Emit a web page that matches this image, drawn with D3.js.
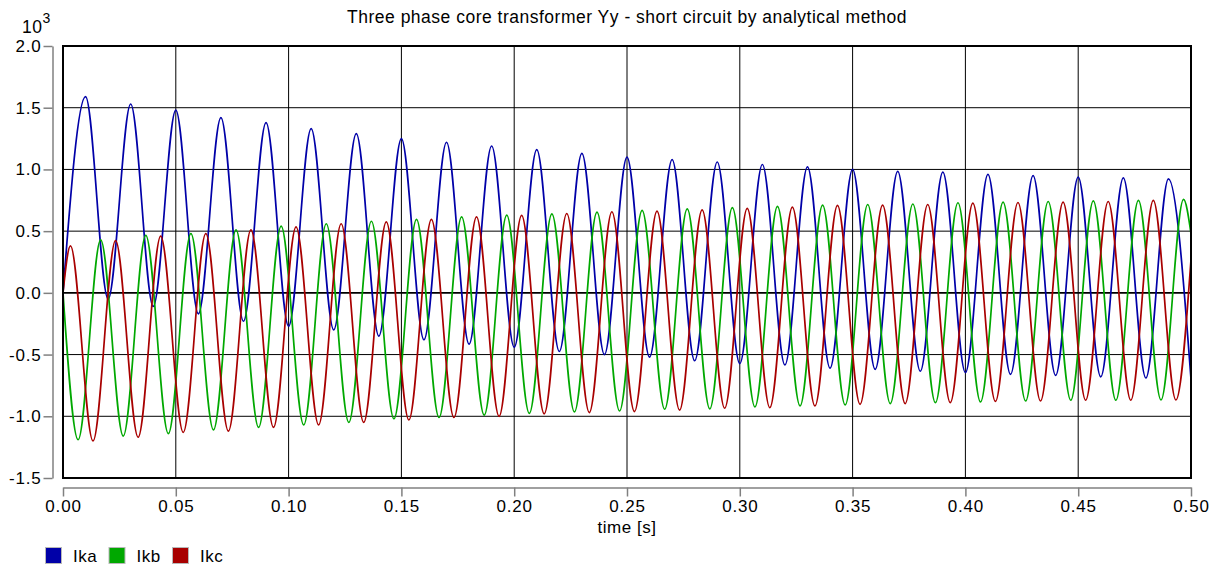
<!DOCTYPE html>
<html lang="en">
<head>
	<meta charset="UTF-8">
	<title>Transformer short circuit</title>
	<style>
		body {
			margin: 0;
			background: #fff;
			font-family: "Liberation Sans", Arial, sans-serif;
		}
		text {
			fill: #000;
			letter-spacing: 0.5px;
		}
		.tick text {
			font-size: 17px;
			letter-spacing: 0.8px;
		}
	</style>
</head>
<body>
	<svg></svg>
<script src="https://cdn.jsdelivr.net/npm/d3@7/dist/d3.min.js"></script>
<script>
	// values in units of 10^3 (A) at each extremum
	const ikaTime = [0, 0.01, 0.02, 0.03, 0.04, 0.05, 0.06, 0.07, 0.08, 0.09, 0.10,
		0.11, 0.12, 0.13, 0.14, 0.15, 0.16, 0.17, 0.18, 0.19, 0.20,
		0.21, 0.22, 0.23, 0.24, 0.25, 0.26, 0.27, 0.28, 0.29, 0.30,
		0.31, 0.32, 0.33, 0.34, 0.35, 0.36, 0.37, 0.38, 0.39, 0.40,
		0.41, 0.42, 0.43, 0.44, 0.45, 0.46, 0.47, 0.48, 0.49, 0.50];
	const ikaValue = [0, 1.59, -0.05, 1.53, -0.11, 1.48, -0.17, 1.42, -0.23, 1.38, -0.27,
		1.33, -0.30, 1.29, -0.35, 1.25, -0.38, 1.22, -0.415, 1.19, -0.44,
		1.16, -0.475, 1.13, -0.50, 1.10, -0.52, 1.08, -0.55, 1.06, -0.573,
		1.04, -0.584, 1.02, -0.61, 1.00, -0.62, 0.984, -0.635, 0.978, -0.646,
		0.96, -0.66, 0.95, -0.668, 0.937, -0.68, 0.932, -0.69, 0.924, -0.70];

	const ikbTime = [0, 0.0067, 0.0167, 0.0267, 0.0367, 0.0467, 0.0567, 0.0667, 0.0767, 0.0867, 0.0967,
		0.1067, 0.1167, 0.1267, 0.1367, 0.1467, 0.1567, 0.1667, 0.1767, 0.1867, 0.1967,
		0.2067, 0.2167, 0.2267, 0.2367, 0.2467, 0.2567, 0.2667, 0.2767, 0.2867, 0.2967,
		0.3067, 0.3167, 0.3267, 0.3367, 0.3467, 0.3567, 0.3667, 0.3767, 0.3867, 0.3967,
		0.4067, 0.4167, 0.4267, 0.4367, 0.4467, 0.4567, 0.4667, 0.4767, 0.4867, 0.4967, 0.50];
	const ikbValue = [0, -1.19, 0.43, -1.16, 0.465, -1.14, 0.48, -1.11, 0.51, -1.09, 0.54,
		-1.07, 0.56, -1.05, 0.58, -1.02, 0.595, -1.01, 0.616, -0.99, 0.63,
		-0.976, 0.64, -0.965, 0.654, -0.957, 0.668, -0.943, 0.68, -0.94, 0.69,
		-0.924, 0.70, -0.916, 0.71, -0.908, 0.716, -0.897, 0.72, -0.89, 0.73,
		-0.884, 0.735, -0.876, 0.74, -0.87, 0.746, -0.87, 0.75, -0.868, 0.757, 0.48];

	const ikcTime = [0, 0.0033, 0.0133, 0.0233, 0.0333, 0.0433, 0.0533, 0.0633, 0.0733, 0.0833, 0.0933,
		0.1033, 0.1133, 0.1233, 0.1333, 0.1433, 0.1533, 0.1633, 0.1733, 0.1833, 0.1933,
		0.2033, 0.2133, 0.2233, 0.2333, 0.2433, 0.2533, 0.2633, 0.2733, 0.2833, 0.2933,
		0.3033, 0.3133, 0.3233, 0.3333, 0.3433, 0.3533, 0.3633, 0.3733, 0.3833, 0.3933,
		0.4033, 0.4133, 0.4233, 0.4333, 0.4433, 0.4533, 0.4633, 0.4733, 0.4833, 0.4933, 0.50];
	const ikcValue = [0, 0.38, -1.20, 0.424, -1.17, 0.46, -1.13, 0.48, -1.12, 0.51, -1.09,
		0.535, -1.07, 0.56, -1.05, 0.575, -1.03, 0.595, -1.01, 0.616, -1.00,
		0.627, -0.98, 0.643, -0.97, 0.657, -0.962, 0.662, -0.95, 0.673, -0.935,
		0.684, -0.93, 0.695, -0.916, 0.708, -0.903, 0.71, -0.897, 0.716, -0.89,
		0.727, -0.88, 0.732, -0.876, 0.735, -0.87, 0.74, -0.87, 0.75, -0.868, 0.27];

	const seriesNames = ['Ika', 'Ikb', 'Ikc'];
	const seriesColors = ['#0000a8', '#00a800', '#a80000'];
	const xTicks = [0, 0.05, 0.10, 0.15, 0.20, 0.25, 0.30, 0.35, 0.40, 0.45, 0.50];
	const yTicks = [-1.5, -1.0, -0.5, 0, 0.5, 1.0, 1.5, 2.0];

	const width = 1226,
		height = 567;
	const plot = {left: 63, right: 1191, top: 46, bottom: 478};

	const svg = d3.select('svg')
		.attr('width', width)
		.attr('height', height);

	const x = d3.scaleLinear().domain([0, 0.5]).range([plot.left, plot.right]);
	const y = d3.scaleLinear().domain([-1.5, 2.0]).range([plot.bottom, plot.top]);

	// title
	svg.append('text')
		.attr('x', (plot.left + plot.right) / 2)
		.attr('y', 23)
		.attr('text-anchor', 'middle')
		.style('font-size', '17.5px')
		.text('Three phase core transformer Yy - short circuit by analytical method');

	// 10^3 multiplier
	const mult = svg.append('text')
		.attr('x', 22)
		.attr('y', 33)
		.style('font-size', '17.5px');
	mult.append('tspan').text('10');
	mult.append('tspan').attr('dy', -10.5).style('font-size', '14px').text('3');

	// grid
	svg.append('g')
		.selectAll('line')
		.data(xTicks.slice(1, -1))
		.join('line')
		.attr('x1', d => x(d)).attr('x2', d => x(d))
		.attr('y1', plot.top).attr('y2', plot.bottom)
		.attr('stroke', '#000').attr('stroke-width', 1);
	svg.append('g')
		.selectAll('line')
		.data(yTicks.slice(1, -1))
		.join('line')
		.attr('x1', plot.left).attr('x2', plot.right)
		.attr('y1', d => y(d)).attr('y2', d => y(d))
		.attr('stroke', '#000').attr('stroke-width', d => d === 0 ? 1.6 : 1);

	// curves
	svg.append('clipPath').attr('id', 'clip')
		.append('rect')
		.attr('x', plot.left).attr('y', plot.top)
		.attr('width', plot.right - plot.left).attr('height', plot.bottom - plot.top);

	const series = [
		{t: ikaTime, v: ikaValue},
		{t: ikbTime, v: ikbValue},
		{t: ikcTime, v: ikcValue}
	];
	const line = d3.line()
		.x(d => x(d[0]))
		.y(d => y(d[1]))
		.curve(d3.curveMonotoneX);

	svg.append('g')
		.attr('clip-path', 'url(#clip)')
		.selectAll('path')
		.data(series)
		.join('path')
		.attr('d', s => line(s.t.map((t, i) => [t, s.v[i]])))
		.attr('fill', 'none')
		.attr('stroke', (s, i) => seriesColors[i])
		.attr('stroke-width', 1.7)
		.attr('stroke-linejoin', 'round');

	// frame
	svg.append('rect')
		.attr('x', plot.left).attr('y', plot.top)
		.attr('width', plot.right - plot.left).attr('height', plot.bottom - plot.top)
		.attr('fill', 'none')
		.attr('stroke', '#000')
		.attr('stroke-width', 2);

	// axes
	const xAxis = svg.append('g')
		.attr('transform', 'translate(0,487.5)')
		.call(d3.axisBottom(x)
			.tickValues(xTicks)
			.tickFormat(d => d.toFixed(2))
			.tickSize(9)
			.tickSizeOuter(0)
			.tickPadding(3));
	const yAxis = svg.append('g')
		.attr('transform', 'translate(52.5,0)')
		.call(d3.axisLeft(y)
			.tickValues(yTicks)
			.tickFormat(d => d.toFixed(1))
			.tickSize(9)
			.tickSizeOuter(0)
			.tickPadding(2));
	[xAxis, yAxis].forEach(g => {
		g.attr('font-family', null).attr('font-size', null);
		g.select('.domain').attr('stroke', '#808080').attr('stroke-width', 1.5);
		g.selectAll('.tick line').attr('stroke', '#808080').attr('stroke-width', 1.5);
		g.selectAll('.tick text').attr('fill', '#000');
	});

	svg.append('text')
		.attr('x', (plot.left + plot.right) / 2)
		.attr('y', 533)
		.attr('text-anchor', 'middle')
		.style('font-size', '17px')
		.text('time [s]');

	// legend
	const legend = svg.append('g')
		.selectAll('g')
		.data(seriesNames)
		.join('g')
		.attr('transform', (d, i) => `translate(${45 + i * 63.5},547)`);
	legend.append('rect')
		.attr('x', 0.5).attr('y', 0.5)
		.attr('width', 16).attr('height', 16)
		.attr('fill', (d, i) => seriesColors[i])
		.attr('stroke', '#b8b8b8');
	legend.append('text')
		.attr('x', 28)
		.attr('y', 15)
		.style('font-size', '17px')
		.text(d => d);
</script>
</body>
</html>
